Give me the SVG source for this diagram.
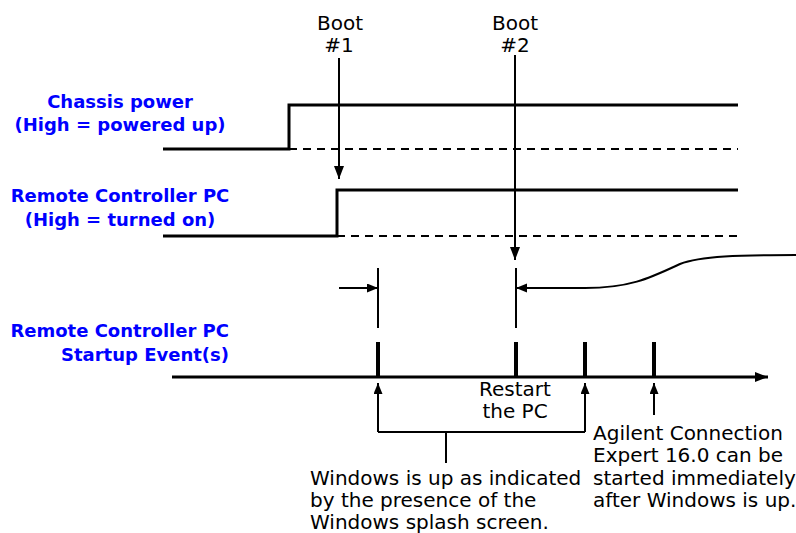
<svg xmlns="http://www.w3.org/2000/svg" width="796" height="533" viewBox="0 0 796 533">
<style>
.lbl{font-family:"DejaVu Sans",sans-serif;font-weight:bold;font-size:18px;fill:#0000ff}
.t{font-family:"DejaVu Sans",sans-serif;font-size:20px;fill:#000}
.sig{fill:none;stroke:#000;stroke-width:3}
.dash{fill:none;stroke:#000;stroke-width:2;stroke-dasharray:8 6}
.ln{fill:none;stroke:#000;stroke-width:2}
.tick{fill:none;stroke:#000;stroke-width:4}
</style>
<defs>
<marker id="ah" markerUnits="userSpaceOnUse" markerWidth="14" markerHeight="10" refX="13" refY="5" orient="auto">
<path d="M0,0 L13,5 L0,10 Z" fill="#000"/>
</marker>
<marker id="ahs" markerUnits="userSpaceOnUse" markerWidth="12" markerHeight="10" refX="11" refY="4.5" orient="auto">
<path d="M0,0 L11,4.5 L0,9 Z" fill="#000"/>
</marker>
</defs>
<g id="boot1">
<text class="t" x="340" y="30" text-anchor="middle">Boot</text>
<text class="t" x="339" y="52" text-anchor="middle">#1</text>
</g>
<g id="boot2">
<text class="t" x="515" y="30" text-anchor="middle">Boot</text>
<text class="t" x="515" y="52" text-anchor="middle">#2</text>
</g>
<g id="chassis-label">
<text class="lbl" x="120" y="108" text-anchor="middle">Chassis power</text>
<text class="lbl" x="120" y="131" text-anchor="middle">(High = powered up)</text>
</g>
<g id="pc-label">
<text class="lbl" x="120" y="202" text-anchor="middle">Remote Controller PC</text>
<text class="lbl" x="120" y="226" text-anchor="middle">(High = turned on)</text>
</g>
<g id="startup-label">
<text class="lbl" x="229" y="337" text-anchor="end">Remote Controller PC</text>
<text class="lbl" x="229" y="361" text-anchor="end">Startup Event(s)</text>
</g>
<g id="chassis-signal">
<path class="sig" d="M163 149 H289 V105 H738"/>
<path class="dash" d="M289 149 H738"/>
</g>
<g id="pc-signal">
<path class="sig" d="M163 236 H337 V190 H738"/>
<path class="dash" d="M337 236 H738"/>
</g>
<g id="timeline">
<path class="sig" d="M172 377 H768" marker-end="url(#ah)"/>
<path class="tick" d="M378 342 V377 M516 342 V377 M585 342 V377 M654 342 V377"/>
<path class="ln" d="M378 268 V328 M516 268 V328"/>
</g>
<g id="restart-label">
<text class="t" x="515" y="396" text-anchor="middle">Restart</text>
<text class="t" x="515" y="418" text-anchor="middle">the PC</text>
</g>
<g id="windows-label">
<text class="t" x="310" y="485">Windows is up as indicated</text>
<text class="t" x="310" y="507">by the presence of the</text>
<text class="t" x="310" y="529">Windows splash screen.</text>
</g>
<g id="ace-label">
<text class="t" x="593" y="440">Agilent Connection</text>
<text class="t" x="593" y="462">Expert 16.0 can be</text>
<text class="t" x="593" y="485">started immediately</text>
<text class="t" x="593" y="507">after Windows is up.</text>
</g>
<g id="connectors">
<path class="ln" d="M339 58 V179" marker-end="url(#ah)"/>
<path class="ln" d="M515 55 V260" marker-end="url(#ah)"/>
<path class="ln" d="M339 288 H378" marker-end="url(#ahs)"/>
<path class="ln" d="M796 255 C740 255 700 256 680 264 C650 278 630 288 585 288 H516" marker-end="url(#ahs)"/>
<path class="ln" d="M446 463 V432"/>
<path class="ln" d="M378 432 H585"/>
<path class="ln" d="M378 432 V383" marker-end="url(#ahs)"/>
<path class="ln" d="M585 432 V383" marker-end="url(#ahs)"/>
<path class="ln" d="M654 415 V383" marker-end="url(#ahs)"/>
</g>
</svg>
